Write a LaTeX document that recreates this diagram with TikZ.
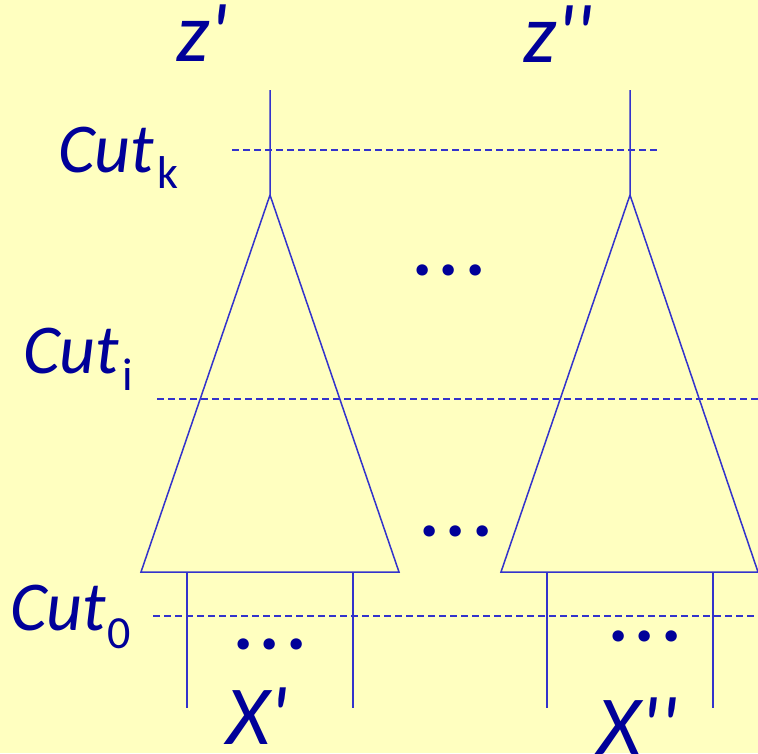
\documentclass[tikz,border=0pt]{standalone}
\usepackage{fontspec}
\newfontfamily\labfont{Carlito}[Ligatures=TeXOff]
\definecolor{bgyellow}{RGB}{255,255,192}
\definecolor{linblue}{RGB}{51,51,204}
\definecolor{txtblue}{RGB}{0,0,153}
\newcommand{\spdots}{.\hspace{6pt}.\hspace{6pt}.}
\begin{document}
\begin{tikzpicture}[x=1pt,y=-1pt,
  treeline/.style={draw=linblue,line width=1.5pt},
  cutline/.style={draw=linblue,line width=1.5pt,dash pattern=on 7pt off 4pt},
  lab/.style={inner sep=0pt,text=txtblue,font=\labfont\fontsize{70}{80}\selectfont},
  biglab/.style={inner sep=0pt,text=txtblue,font=\labfont\itshape\fontsize{84}{90}\selectfont},
  dotlab/.style={inner sep=0pt,text=txtblue,font=\labfont\bfseries\fontsize{76}{80}\selectfont,anchor=base}]
\fill[bgyellow] (0,0) rectangle (758,753);
\useasboundingbox (0,0) rectangle (758,753);
% left tree
\coordinate (ltop) at (270,90);
\coordinate (lapex) at (270,195);
\coordinate (lbl) at (141,572);
\coordinate (lbr) at (399,572);
\coordinate (ll1t) at (187,572);
\coordinate (ll1b) at (187,708);
\coordinate (ll2t) at (353,572);
\coordinate (ll2b) at (353,708);
% right tree
\coordinate (rtop) at (630,90);
\coordinate (rapex) at (630,195);
\coordinate (rbl) at (501,572);
\coordinate (rbr) at (758,572);
\coordinate (rl1t) at (547,572);
\coordinate (rl1b) at (547,708);
\coordinate (rl2t) at (713,572);
\coordinate (rl2b) at (713,708);
% cuts
\coordinate (ka) at (232,150);
\coordinate (kb) at (658,150);
\coordinate (ia) at (157,399);
\coordinate (ib) at (758,399);
\coordinate (oa) at (153,616);
\coordinate (ob) at (758,616);

\path[treeline] (ltop) -- (lapex) (lapex) -- (lbl) -- (lbr) -- cycle;
\path[treeline] (ll1t) -- (ll1b) (ll2t) -- (ll2b);
\path[treeline] (rtop) -- (rapex) (rapex) -- (rbl) -- (rbr) -- cycle;
\path[treeline] (rl1t) -- (rl1b) (rl2t) -- (rl2b);
\path[cutline] (ka) -- (kb);
\path[cutline] (ia) -- (ib);
\path[cutline] (oa) -- (ob);

% labels
\node[biglab,anchor=base west] (zp) at (176,61) {z'};
\node[biglab,anchor=base west] (zpp) at (523,62) {z''};
\node[lab,anchor=base west] (cutk) at (58,172) {\itshape Cut\hspace{3pt}\raisebox{-16pt}{\upshape\fontsize{46}{50}\selectfont k}};
\node[lab,anchor=base west] (cuti) at (23,373) {\itshape Cut\hspace{3pt}\raisebox{-17pt}{\upshape\fontsize{46}{50}\selectfont i}};
\node[lab,anchor=base west] (cut0) at (10,630) {\itshape Cut\hspace{1pt}\raisebox{-18pt}{\upshape\fontsize{46}{50}\selectfont 0}};
\node[biglab,anchor=base west] (xp) at (226,744) {X'};
\node[biglab,anchor=base west] (xpp) at (597,754) {X''};
% dots
\node[dotlab] (d1) at (449,275) {\spdots};
\node[dotlab] (d2) at (456,536) {\spdots};
\node[dotlab] (d3) at (270,649) {\spdots};
\node[dotlab] (d4) at (645,641) {\spdots};
\end{tikzpicture}
\end{document}
